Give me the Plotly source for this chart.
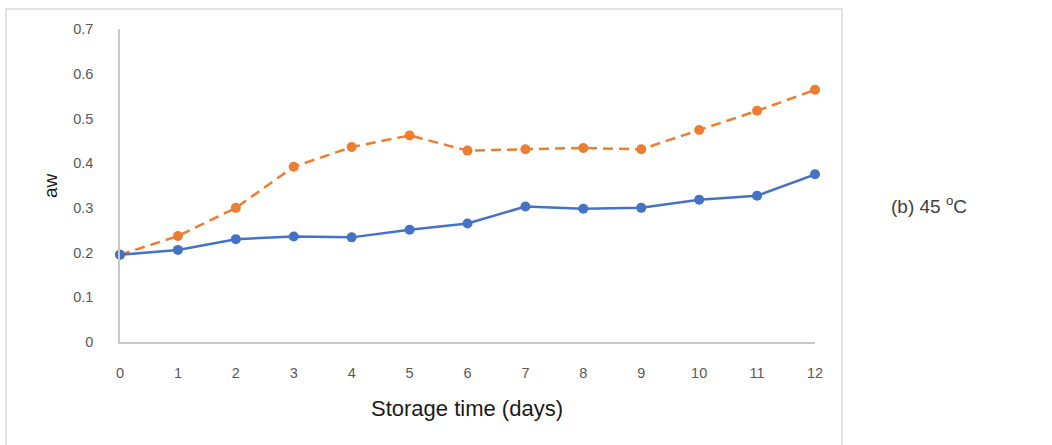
import plotly.graph_objects as go

days = list(range(13))
series_blue = [0.195, 0.206, 0.230, 0.236, 0.234, 0.251, 0.265, 0.303, 0.298, 0.300, 0.318, 0.327, 0.375]
series_orange = [0.195, 0.237, 0.300, 0.392, 0.436, 0.462, 0.428, 0.431, 0.434, 0.431, 0.474, 0.517, 0.564]
y_ticks = [0, 0.1, 0.2, 0.3, 0.4, 0.5, 0.6, 0.7]
y_tick_labels = ["0", "0.1", "0.2", "0.3", "0.4", "0.5", "0.6", "0.7"]

W, H = 1052, 445
L, R, T, B = 120, 237, 29, 103
pw, ph = W - L - R, H - T - B

def px_x(x):
    return (x - L) / pw

def px_y(y):
    return (H - B - y) / ph

font = "Liberation Sans, Arial, sans-serif"

fig = go.Figure()
fig.add_trace(go.Scatter(x=days, y=series_orange, mode="lines+markers",
                         line=dict(color="#ED7D31", width=2.5, dash="10px,6px"),
                         marker=dict(color="#ED7D31", size=10), showlegend=False,
                         cliponaxis=False))
fig.add_trace(go.Scatter(x=days, y=series_blue, mode="lines+markers",
                         line=dict(color="#4472C4", width=2.5),
                         marker=dict(color="#4472C4", size=10), showlegend=False,
                         cliponaxis=False))

fig.update_layout(
    width=W, height=H,
    margin=dict(l=L, r=R, t=T, b=B, pad=0),
    paper_bgcolor="white", plot_bgcolor="white",
    font=dict(family=font, size=14, color="#595959"),
    xaxis=dict(range=[0, 12], tickmode="array", tickvals=days,
               ticktext=[str(d) for d in days], showgrid=False, zeroline=False,
               showline=True, linecolor="#C8C8C8", linewidth=1.5, ticks="",
               ticklabelstandoff=17, tickfont=dict(size=14.5, color="#595959")),
    yaxis=dict(range=[0, 0.7], tickmode="array", tickvals=y_ticks,
               ticktext=y_tick_labels, showgrid=False, zeroline=False,
               showline=True, linecolor="#C8C8C8", linewidth=1.5, ticks="",
               ticklabelstandoff=22, tickfont=dict(size=14.5, color="#595959")),
    shapes=[dict(type="rect", xref="paper", yref="paper",
                 x0=px_x(6), x1=px_x(842), y0=px_y(460), y1=px_y(9),
                 line=dict(color="#D9D9D9", width=1.5), fillcolor="rgba(0,0,0,0)",
                 layer="below")],
    annotations=[
        dict(text="Storage time (days)", xref="paper", yref="paper",
             x=px_x(467), y=px_y(408), showarrow=False,
             font=dict(size=22, color="#1a1a1a", family=font),
             xanchor="center", yanchor="middle"),
        dict(text="aw", xref="paper", yref="paper", x=px_x(50), y=px_y(186),
             showarrow=False, textangle=-90,
             font=dict(size=19, color="#1a1a1a", family=font),
             xanchor="center", yanchor="middle"),
        dict(text="(b) 45 <sup>o</sup>C", xref="paper", yref="paper",
             x=px_x(929), y=px_y(205), showarrow=False,
             font=dict(size=19, color="#404040", family=font),
             xanchor="center", yanchor="middle"),
    ],
)

fig.write_html("out.html", config={"displayModeBar": False},
               post_script="document.body.style.margin='0';")
